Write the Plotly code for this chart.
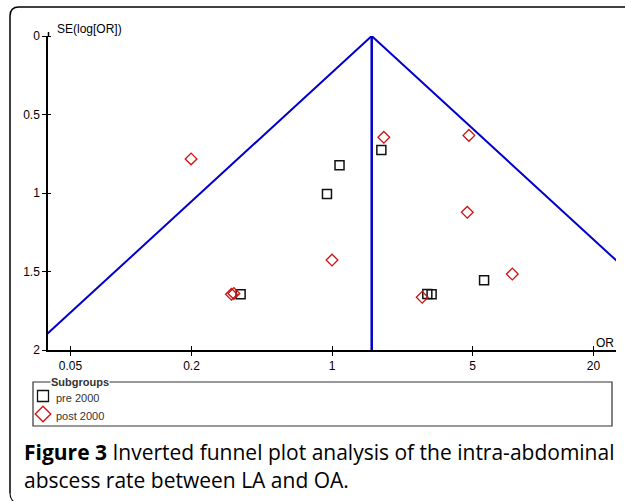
import plotly.graph_objects as go

# ---- data ----
pre_or = [1.09, 1.76, 0.944, 0.351, 5.71, 2.98, 3.13]
pre_se = [0.824, 0.726, 1.006, 1.645, 1.556, 1.643, 1.645]

post_or = [0.199, 1.81, 4.80, 4.71, 1.0, 7.89, 0.316, 0.325, 2.81]
post_se = [0.783, 0.645, 0.633, 1.123, 1.427, 1.516, 1.645, 1.640, 1.664]

funnel_or = [0.0313, 1.576, 79.4]
funnel_se = [2, 0, 2]
vert_or = [1.576, 1.576]
vert_se = [0, 2]

x_tickvals = [0.05, 0.2, 1, 5, 20]
x_ticktext = ["0.05", "0.2", "1", "5", "20"]
y_tickvals = [0, 0.5, 1, 1.5, 2]
y_ticktext = ["0", "0.5", "1", "1.5", "2"]

legend_names = ["pre 2000", "post 2000"]

# ---- layout geometry (pixel based, whole figure = paper) ----
W, H = 625, 501
PL, PR, PT, PB = 48, 616, 36, 350   # plot area in pixels


def px(x):
    return x / W


def py(y):
    return 1 - y / H


BLUE = "#0000CC"
RED = "#D01010"
BLACK = "#111111"

fig = go.Figure()

fig.add_trace(go.Scatter(x=funnel_or, y=funnel_se, mode="lines",
                         line=dict(color=BLUE, width=2),
                         showlegend=False, hoverinfo="skip"))
fig.add_trace(go.Scatter(x=vert_or, y=vert_se, mode="lines",
                         line=dict(color=BLUE, width=2.5),
                         showlegend=False, hoverinfo="skip"))

fig.add_trace(go.Scatter(x=pre_or, y=pre_se, mode="markers", name=legend_names[0],
                         showlegend=False,
                         marker=dict(symbol="square-open", size=9,
                                     color=BLACK, line=dict(width=1.5, color=BLACK))))
fig.add_trace(go.Scatter(x=post_or, y=post_se, mode="markers", name=legend_names[1],
                         showlegend=False,
                         marker=dict(symbol="diamond-open", size=9,
                                     color=RED, line=dict(width=1.3, color=RED))))

# legend key symbols on a hidden pixel-coordinate axis
fig.add_trace(go.Scatter(x=[43], y=[396], xaxis="x2", yaxis="y2", mode="markers",
                         showlegend=False, hoverinfo="skip",
                         marker=dict(symbol="square-open", size=11, color=BLACK,
                                     line=dict(width=1.3, color=BLACK))))
fig.add_trace(go.Scatter(x=[43], y=[414], xaxis="x2", yaxis="y2", mode="markers",
                         showlegend=False, hoverinfo="skip",
                         marker=dict(symbol="diamond-open", size=12, color=RED,
                                     line=dict(width=1.3, color=RED))))

axis_font = dict(family="Liberation Sans, Arial, sans-serif", size=12, color="#000")
legend_font = dict(family="Liberation Sans, Arial, sans-serif", size=11, color="#333")

fig.update_layout(
    xaxis=dict(type="log", range=[-1.413, 1.413], domain=[px(PL), px(PR)],
               tickmode="array", tickvals=x_tickvals, ticktext=x_ticktext,
               ticks="outside", ticklen=4, tickwidth=1.2, tickcolor="#000",
               minor=dict(ticks="inside", ticklen=4, tickwidth=1.2, tickcolor="#000",
                          tickmode="array", tickvals=x_tickvals),
               showline=True, linecolor="#000", linewidth=1.5, automargin=False,
               showgrid=False, zeroline=False, tickfont=axis_font, anchor="y"),
    yaxis=dict(range=[2, 0], domain=[py(PB), py(PT)],
               tickmode="array", tickvals=y_tickvals, ticktext=y_ticktext,
               ticks="outside", ticklen=4, tickwidth=1.2, tickcolor="#000",
               minor=dict(ticks="inside", ticklen=3, tickwidth=1.2, tickcolor="#000",
                          tickmode="array", tickvals=y_tickvals),
               showline=True, linecolor="#000", linewidth=1.5, automargin=False,
               showgrid=False, zeroline=False, tickfont=axis_font, anchor="x"),
    xaxis2=dict(domain=[0, 1], range=[0, W], visible=False, anchor="y2",
                fixedrange=True, automargin=False),
    yaxis2=dict(domain=[0, 1], range=[H, 0], visible=False, anchor="x2",
                fixedrange=True, automargin=False),
)

shapes = []
# outer rounded frame
frame = (f"M {px(10)} {py(493)} L {px(10)} {py(16)} Q {px(10)} {py(7)} {px(19)} {py(7)} "
         f"L {px(630)} {py(7)}")
shapes.append(dict(type="path", path=frame, xref="paper", yref="paper",
                   line=dict(color="#000", width=1.5)))
shapes.append(dict(type="path",
                   path=f"M {px(10)} {py(493)} Q {px(10)} {py(499)} {px(14)} {py(502)}",
                   xref="paper", yref="paper", line=dict(color="#000", width=1.2)))
# y axis line stub above zero (reference axis line extends slightly past 0)
shapes.append(dict(type="line", xref="paper", yref="paper",
                   x0=px(48.5), x1=px(48.5), y0=py(36), y1=py(32),
                   line=dict(color="#000", width=1.5)))
# legend box
shapes.append(dict(type="rect", xref="paper", yref="paper",
                   x0=px(33), x1=px(612), y0=py(382), y1=py(426),
                   line=dict(color="#333", width=1.2), layer="above"))

annotations = [
    dict(text="SE(log[OR])", x=px(55), y=py(29), xref="paper", yref="paper",
         xanchor="left", yanchor="middle", showarrow=False, font=axis_font),
    dict(text="OR", x=px(616), y=py(343), xref="paper", yref="paper",
         xanchor="right", yanchor="middle", showarrow=False, font=axis_font),
    dict(text="<b>Subgroups</b>", x=px(50), y=py(382), xref="paper", yref="paper",
         xanchor="left", yanchor="middle", showarrow=False, bgcolor="#fff",
         borderpad=0, font=legend_font),
    dict(text=legend_names[0], x=px(54), y=py(398), xref="paper", yref="paper",
         xanchor="left", yanchor="middle", showarrow=False, font=legend_font),
    dict(text=legend_names[1], x=px(54), y=py(416), xref="paper", yref="paper",
         xanchor="left", yanchor="middle", showarrow=False, font=legend_font),
    dict(text="<b>Figure 3</b> Inverted funnel plot analysis of the intra-abdominal",
         x=px(22), y=py(452), xref="paper", yref="paper", xanchor="left", yanchor="middle",
         showarrow=False, font=dict(family="Open Sans, sans-serif", size=21, color="#000")),
    dict(text="abscess rate between LA and OA.",
         x=px(22), y=py(480), xref="paper", yref="paper", xanchor="left", yanchor="middle",
         showarrow=False, font=dict(family="Open Sans, sans-serif", size=21, color="#000")),
]

fig.update_layout(
    width=W, height=H, autosize=False,
    margin=dict(l=0, r=0, t=0, b=0, pad=0, autoexpand=False),
    paper_bgcolor="#fff", plot_bgcolor="rgba(0,0,0,0)",
    shapes=shapes, annotations=annotations,
    showlegend=False,
)

fig.write_html("out.html", config={"displayModeBar": False},
               post_script="document.body.style.margin='0';")
